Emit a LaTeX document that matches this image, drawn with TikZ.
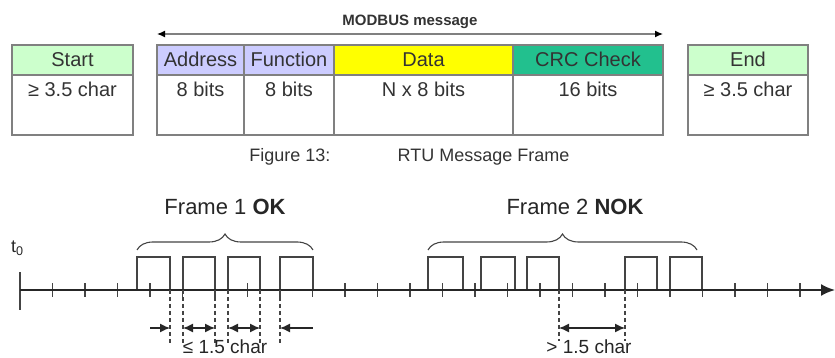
\documentclass[tikz,border=0pt]{standalone}
\usepackage{fontspec}
\setmainfont{Liberation Sans}
\usetikzlibrary{arrows.meta,positioning,decorations.pathreplacing}
\definecolor{mintgrn}{HTML}{CCFFCC}
\definecolor{lavblue}{HTML}{CCCCFF}
\definecolor{brightyel}{HTML}{FFFF00}
\definecolor{crcgrn}{HTML}{22C08E}
\definecolor{boxgray}{HTML}{808080}
\definecolor{inkgray}{HTML}{333333}
\definecolor{linegray}{HTML}{444444}
\tikzset{
  hd/.style={rectangle,draw=boxgray,line width=1.2pt,outer sep=0pt,
             minimum width=#1,minimum height=30pt,inner sep=0pt,
             text height=14pt,text depth=0pt,
             font=\fontsize{20}{24}\selectfont,text=inkgray},
  vl/.style={rectangle,draw=boxgray,line width=1.2pt,outer sep=0pt,
             minimum width=#1,inner xsep=0pt,inner ysep=3pt,
             text height=19pt,text depth=35pt,
             font=\fontsize{20}{24}\selectfont,text=inkgray},
  figcap/.style={font=\fontsize{18}{22}\selectfont,text=inkgray},
  flbl/.style={font=\fontsize{22}{26}\selectfont,text=black!85},
  glbl/.style={font=\fontsize{19}{23}\selectfont,text=black!85},
  marr/.style={{Latex[length=8pt,width=7pt,color=black]}-{Latex[length=8pt,width=7pt,color=black]},
               line width=1.3pt,draw=boxgray},
  axis/.style={-{Latex[length=14pt,width=12pt]},line width=2pt,draw=black!85},
  tck/.style={line width=1.3pt,draw=linegray},
  pulse/.style={line width=1.1pt,draw=linegray},
  guide/.style={dashed,dash pattern=on 4pt off 3pt,line width=1.2pt,draw=linegray},
  gap/.style={line width=1.3pt,draw=black!85,
              arrows={Latex[length=10pt,width=9pt]-Latex[length=10pt,width=9pt]}},
  brc/.style={decorate,decoration={brace,amplitude=16pt},line width=1.1pt,
              draw=linegray},
}
\begin{document}
\begin{tikzpicture}[x=1pt,y=1pt]
  \useasboundingbox (0,0) rectangle (835,358);
  \node[hd=121pt, fill=mintgrn] (sth) at (72.5,298) {Start};
  \node[vl=121pt, below=0pt of sth] (stv) {≥ 3.5 char};
  \node[hd=87pt, fill=lavblue] (adh) at (200.5,298) {Address};
  \node[vl=87pt, below=0pt of adh] (adv) {8 bits};
  \node[hd=90pt, fill=lavblue, right=0pt of adh] (fnh) {Function};
  \node[vl=90pt, below=0pt of fnh] (fnv) {8 bits};
  \node[hd=179pt, fill=brightyel, right=0pt of fnh] (dah) {Data};
  \node[vl=179pt, below=0pt of dah] (dav) {N x 8 bits};
  \node[hd=150pt, fill=crcgrn, right=0pt of dah] (crh) {CRC Check};
  \node[vl=150pt, below=0pt of crh] (crv) {16 bits};
  \node[hd=120pt, fill=mintgrn] (enh) at (748,298) {End};
  \node[vl=120pt, below=0pt of enh] (env) {≥ 3.5 char};

  \draw[marr] ([yshift=11pt]adh.north west) --
    node[above=1pt,font=\bfseries\fontsize{15}{18}\selectfont,text=inkgray]{MODBUS message}
    ([yshift=11pt]crh.north east);

  \node[figcap] (fig) at (290,201) {Figure 13:};
  \node[figcap] (rtu) at (483.5,201) {RTU Message Frame};

  \coordinate (t0) at (20,68);
  \coordinate (tend) at (835,68);
  \node[figcap,text=black!85] (t0lbl) at (17.5,110) {t\textsubscript{0}};
  \draw[tck] (20,48) -- (20,86);
  \foreach \k in {1,...,24}
    \draw[tck] (20+32.5*\k,61) -- ++(0,14);
  \foreach \a/\b in {137/170,183/215,228/260,280/313,
                     428/463,481/515,527/559,625/657,670/702}
    \draw[pulse] (\a,68) |- (\b,101) -- (\b,68);
  \draw[axis] (t0) -- (tend);

  \draw[brc] (137,108) -- (313,108);
  \draw[brc] (428,108) -- (697,108);
  \node[flbl] (f1) at (225,151) {Frame 1 \textbf{OK}};
  \node[flbl] (f2) at (575,151) {Frame 2 \textbf{NOK}};

  \foreach \x in {170,183,215,228,260,280}
    \draw[guide] (\x,68) -- (\x,15);
  \foreach \x in {559,625}
    \draw[guide] (\x,68) -- (\x,17);
  \draw[gap,arrows={-Latex[length=10pt,width=9pt]}] (150,30) -- (170,30);
  \draw[gap] (183,30) -- (215,30);
  \draw[gap] (228,30) -- (260,30);
  \draw[gap,arrows={Latex[length=10pt,width=9pt]-}] (280,30) -- (313,30);
  \draw[gap] (559,30) -- (625,30);
  \node[glbl] (g1) at (225,11) {≤ 1.5 char};
  \node[glbl] (g2) at (589,11) {> 1.5 char};
\end{tikzpicture}
\end{document}
